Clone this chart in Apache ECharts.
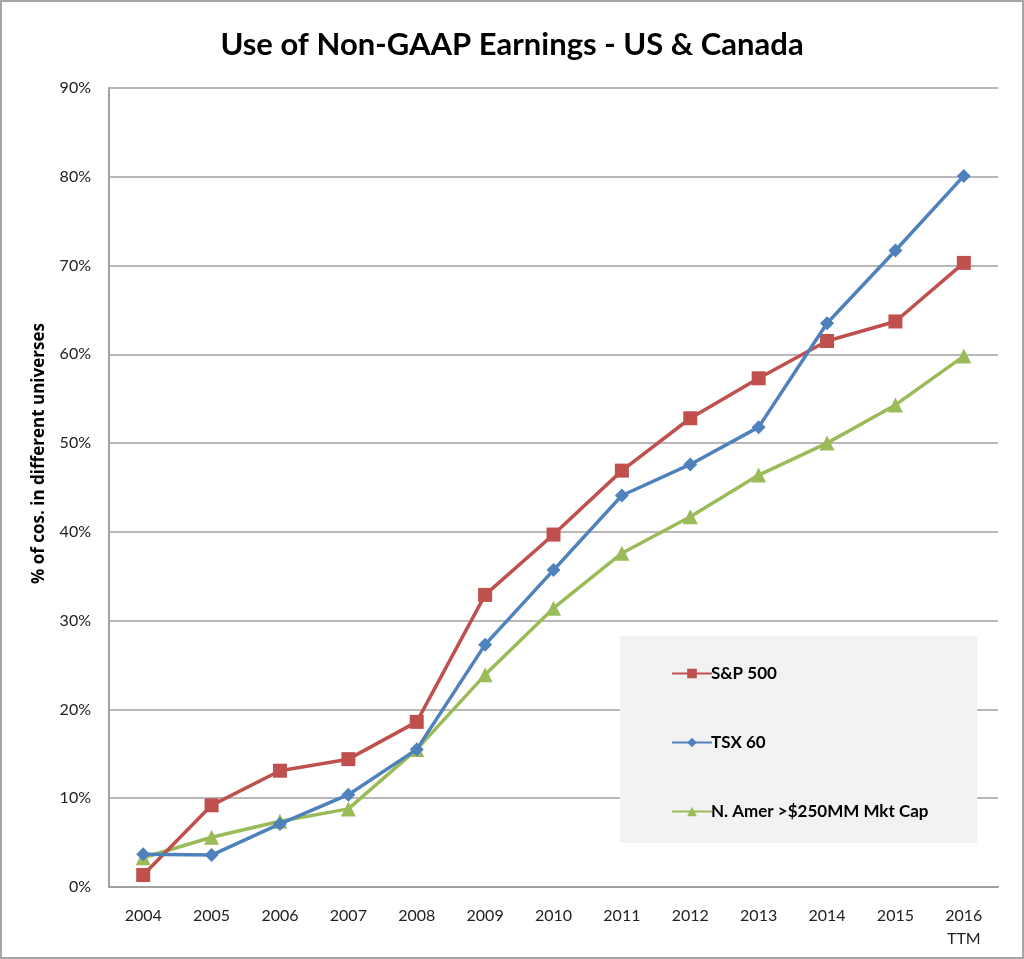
<!DOCTYPE html>
<html>
<head>
<meta charset="utf-8">
<script src="https://cdn.jsdelivr.net/npm/echarts@6/dist/echarts.min.js"></script>
<style>
html,body{margin:0;padding:0;background:#fff;}
#c{width:1024px;height:959px;box-sizing:border-box;border:2px solid #a6a6a6;}
</style>
</head>
<body>
<div id="c"></div>
<script>
const categories = ['2004','2005','2006','2007','2008','2009','2010','2011','2012','2013','2014','2015','2016\nTTM'];
const sp500 = [1.35, 9.2, 13.1, 14.4, 18.6, 32.9, 39.7, 46.9, 52.8, 57.3, 61.5, 63.7, 70.3];
const tsx60 = [3.7, 3.6, 7.1, 10.4, 15.5, 27.3, 35.7, 44.1, 47.6, 51.8, 63.5, 71.7, 80.1];
const namer = [3.3, 5.6, 7.4, 8.8, 15.5, 23.9, 31.4, 37.6, 41.7, 46.4, 50.0, 54.3, 59.8];
const yTicks = [0, 10, 20, 30, 40, 50, 60, 70, 80, 90];
const seriesNames = ['S&P 500', 'TSX 60', 'N. Amer >$250MM Mkt Cap'];

const font = 'Lato, "Open Sans", "Liberation Sans", sans-serif';
const chart = echarts.init(document.getElementById('c'), null, {renderer:'canvas'});
chart.setOption({
  animation:false,
  backgroundColor:'#fff',
  title:{
    text:'Use of Non-GAAP Earnings - US & Canada',
    left:'center', top:22,
    textStyle:{fontFamily:font, fontSize:31, fontWeight:'bold', color:'#000'}
  },
  grid:{left:107, right:24, top:86, bottom:70, containLabel:false},
  graphic:[{
    type:'rect', left:618, top:634, z:5,
    shape:{width:357, height:207},
    style:{fill:'#f2f2f2'}
  }],
  legend:{
    orient:'vertical', left:664, top:658, itemGap:52, z:10,
    itemWidth:40, itemHeight:12,
    textStyle:{fontFamily:font, fontSize:17, fontWeight:'bold', color:'#000', padding:[0,0,0,-6]},
    data:seriesNames
  },
  xAxis:{
    type:'category', data:categories, boundaryGap:true,
    axisLine:{lineStyle:{color:'#a0a0a0', width:2}},
    axisTick:{show:false},
    axisLabel:{fontFamily:font, fontSize:16, color:'#222', margin:17, lineHeight:23}
  },
  yAxis:{
    type:'value', min:0, max:90, interval:10,
    name:'% of cos. in different universes',
    nameLocation:'middle', nameGap:61, nameRotate:90,
    nameTextStyle:{fontFamily:'"Open Sans", Lato, sans-serif', fontSize:17, fontWeight:'bold', color:'#000', padding:[0,0,0,68]},
    axisLine:{show:true, lineStyle:{color:'#a0a0a0', width:2}},
    axisTick:{show:false},
    splitLine:{lineStyle:{color:'#a0a0a0', width:1.5}},
    axisLabel:{fontFamily:font, fontSize:16, color:'#222', margin:18,
      formatter:function(v){return yTicks.indexOf(v)>=0 ? v+'%' : '';}}
  },
  series:[
    {name:seriesNames[0], type:'line', data:sp500, symbol:'rect', symbolSize:14,
     lineStyle:{color:'#C0504D', width:3.5}, itemStyle:{color:'#C0504D'}, z:3},
    {name:seriesNames[1], type:'line', data:tsx60, symbol:'diamond', symbolSize:14,
     lineStyle:{color:'#4F81BD', width:3.5}, itemStyle:{color:'#4F81BD'}, z:4},
    {name:seriesNames[2], type:'line', data:namer, symbol:'triangle', symbolSize:15,
     lineStyle:{color:'#9BBB59', width:3.5}, itemStyle:{color:'#9BBB59'}, z:2}
  ]
});
</script>
</body>
</html>
